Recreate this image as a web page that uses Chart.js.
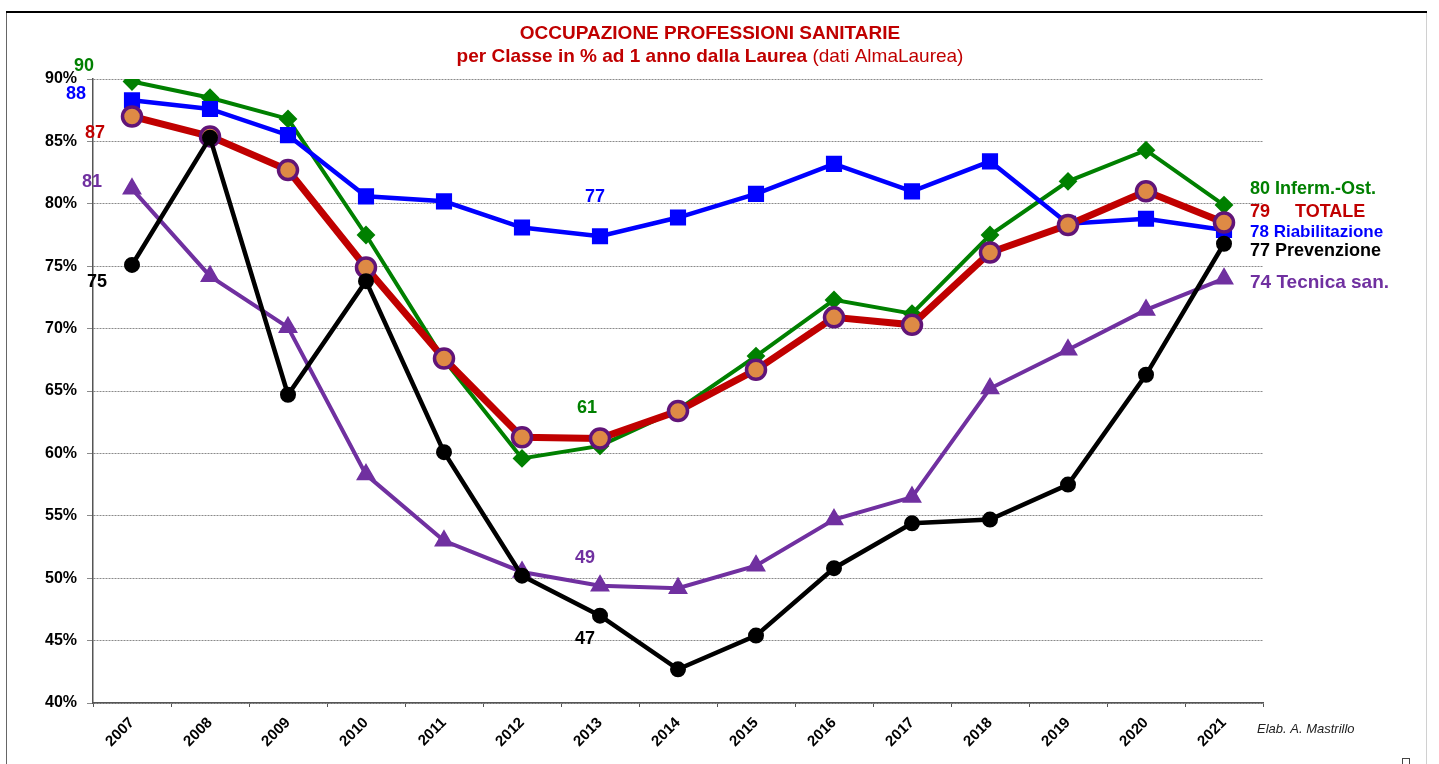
<!DOCTYPE html>
<html>
<head>
<meta charset="utf-8">
<script src="https://cdn.jsdelivr.net/npm/chart.js@4.4.1/dist/chart.umd.min.js"></script>
<style>
html,body{margin:0;padding:0;background:#fff;}
#wrap{width:1439px;height:764px;position:relative;}
</style>
</head>
<body>
<div id="wrap"><canvas id="c" width="1439" height="764"></canvas></div>
<script>
const years = ['2007','2008','2009','2010','2011','2012','2013','2014','2015','2016','2017','2018','2019','2020','2021'];
const infermOst      = [89.8, 88.5, 86.8, 77.5, 67.5, 59.6, 60.6, 63.5, 67.8, 72.3, 71.2, 77.5, 81.8, 84.3, 79.9];
const totale         = [87.0, 85.4, 82.7, 74.9, 67.6, 61.3, 61.2, 63.4, 66.7, 70.9, 70.3, 76.1, 78.3, 81.0, 78.5];
const riabilitazione = [88.3, 87.6, 85.5, 80.6, 80.2, 78.1, 77.4, 78.9, 80.8, 83.2, 81.0, 83.4, 78.4, 78.8, 77.9];
const prevenzione    = [75.1, 85.3, 64.7, 73.8, 60.1, 50.2, 47.0, 42.7, 45.4, 50.8, 54.4, 54.7, 57.5, 66.3, 76.8];
const tecnicaSan     = [81.2, 74.2, 70.1, 58.3, 53.0, 50.5, 49.4, 49.2, 51.0, 54.7, 56.5, 65.2, 68.3, 71.5, 74.0];
const yTicks = [40, 45, 50, 55, 60, 65, 70, 75, 80, 85, 90];

const titleLine1 = 'OCCUPAZIONE PROFESSIONI SANITARIE';
const titleLine2Bold = 'per Classe in % ad 1 anno dalla Laurea';
const titleLine2Normal = ' (dati AlmaLaurea)';
const credit = 'Elab. A. Mastrillo';

const FONT = "'Liberation Sans', Arial, sans-serif";
const C_GREEN = '#008000', C_BLUE = '#0000ff', C_RED = '#c00000', C_BLACK = '#000000', C_PURPLE = '#7030a0';

// value annotations: [dataset array, index, text, color, dx, dy]
const valueLabels = [
  [infermOst, 0, '90', C_GREEN, -48, -15],
  [riabilitazione, 0, '88', C_BLUE, -56, -6],
  [totale, 0, '87', C_RED, -37, 17],
  [tecnicaSan, 0, '81', C_PURPLE, -40, -7],
  [prevenzione, 0, '75', C_BLACK, -35, 17],
  [riabilitazione, 6, '77', C_BLUE, -5, -39],
  [infermOst, 6, '61', C_GREEN, -13, -38],
  [tecnicaSan, 6, '49', C_PURPLE, -15, -28],
  [prevenzione, 6, '47', C_BLACK, -15, 23]
];
// end labels: [text, value level, color, font size]
const endLabels = [
  ['80 Inferm.-Ost.', 81.2, C_GREEN, 18],
  ['79     TOTALE', 79.35, C_RED, 18],
  ['78 Riabilitazione', 77.75, C_BLUE, 17],
  ['77 Prevenzione', 76.2, C_BLACK, 18],
  ['74 Tecnica san.', 73.65, C_PURPLE, 19]
];

const framePlugin = {
  id: 'frame',
  beforeDraw(chart) {
    const ctx = chart.ctx;
    ctx.save();
    ctx.fillStyle = '#fff';
    ctx.fillRect(0, 0, chart.width, chart.height);
    ctx.lineWidth = 1;
    ctx.strokeStyle = '#666';
    ctx.beginPath(); ctx.moveTo(6.5, 12); ctx.lineTo(6.5, 764); ctx.stroke();
    ctx.strokeStyle = '#d0d0d0';
    ctx.beginPath(); ctx.moveTo(1426.5, 12); ctx.lineTo(1426.5, 764); ctx.stroke();
    ctx.strokeStyle = '#000';
    ctx.lineWidth = 2;
    ctx.beginPath(); ctx.moveTo(6, 12); ctx.lineTo(1427, 12); ctx.stroke();
    ctx.lineWidth = 1;
    ctx.strokeStyle = '#444';
    ctx.strokeRect(1402.5, 758.5, 7, 7);
    ctx.restore();
  }
};

const textPlugin = {
  id: 'texts',
  afterDatasetsDraw(chart) {
    const ctx = chart.ctx;
    const xs = chart.scales.x, ys = chart.scales.y;
    ctx.save();
    // title
    ctx.fillStyle = C_RED;
    ctx.textBaseline = 'middle';
    ctx.textAlign = 'center';
    ctx.font = 'bold 19px ' + FONT;
    ctx.fillText(titleLine1, 710, 34);
    ctx.font = 'bold 19px ' + FONT;
    const wb = ctx.measureText(titleLine2Bold).width;
    ctx.font = '19px ' + FONT;
    const wn = ctx.measureText(titleLine2Normal).width;
    const startX = 710 - (wb + wn) / 2;
    ctx.textAlign = 'left';
    ctx.font = 'bold 19px ' + FONT;
    ctx.fillText(titleLine2Bold, startX, 57);
    ctx.font = '19px ' + FONT;
    ctx.fillText(titleLine2Normal, startX + wb, 57);

    // value labels
    ctx.textAlign = 'center';
    ctx.font = 'bold 18px ' + FONT;
    valueLabels.forEach(([arr, i, txt, col, dx, dy]) => {
      ctx.fillStyle = col;
      ctx.fillText(txt, xs.getPixelForValue(i) + dx, ys.getPixelForValue(arr[i]) + dy);
    });

    // end labels
    ctx.textAlign = 'left';
    const lastX = xs.getPixelForValue(years.length - 1);
    endLabels.forEach(([txt, lvl, col, fs]) => {
      ctx.fillStyle = col;
      ctx.font = 'bold ' + fs + 'px ' + FONT;
      ctx.fillText(txt, lastX + 26, ys.getPixelForValue(lvl));
    });

    // credit
    ctx.fillStyle = '#222';
    ctx.font = 'italic 13px ' + FONT;
    ctx.fillText(credit, xs.right - 6, ys.bottom + 26);
    ctx.restore();
  }
};

function ds(label, data, color, width, style, radius, fill, border, bw) {
  return {
    label, data,
    borderColor: color, borderWidth: width,
    pointStyle: style, pointRadius: radius, pointHoverRadius: radius,
    pointBackgroundColor: fill, pointBorderColor: border, pointBorderWidth: bw,
    tension: 0, fill: false
  };
}

new Chart(document.getElementById('c'), {
  type: 'line',
  data: {
    labels: years,
    datasets: [
      ds('Prevenzione', prevenzione, C_BLACK, 4.5, 'circle', 7, C_BLACK, C_BLACK, 2),
      ds('TOTALE', totale, C_RED, 7, 'circle', 9.5, '#de8a45', '#611478', 3.5),
      ds('Riabilitazione', riabilitazione, C_BLUE, 4.5, 'rect', 10, C_BLUE, C_BLUE, 2),
      ds('Inferm.-Ost.', infermOst, C_GREEN, 4, 'rectRot', 8, C_GREEN, C_GREEN, 2),
      ds('Tecnica san.', tecnicaSan, C_PURPLE, 4, 'triangle', 10, C_PURPLE, C_PURPLE, 1.5)
    ]
  },
  options: {
    responsive: false,
    animation: false,
    devicePixelRatio: 1,
    layout: { padding: { left: 0, top: 79, right: 176, bottom: 0 } },
    plugins: { legend: { display: false }, tooltip: { enabled: false }, title: { display: false } },
    scales: {
      x: {
        type: 'category',
        offset: true,
        afterFit(s) { s.height = 61; },
        grid: { offset: true, drawOnChartArea: false, drawTicks: true, tickLength: 4, color: '#555', lineWidth: 1 },
        border: { display: true, color: '#555', width: 1.5 },
        ticks: { color: '#000', font: { family: FONT, size: 15, weight: 'bold' }, minRotation: 45, maxRotation: 45, padding: 7, autoSkip: false }
      },
      y: {
        min: 40, max: 90,
        afterFit(s) { s.width = 93; },
        afterBuildTicks(s) { s.ticks = yTicks.map(v => ({ value: v })); },
        grid: { color: '#8a8a8a', lineWidth: 1, tickLength: 6, drawTicks: true },
        border: { display: true, color: '#555', width: 1.5, dash: [2, 1] },
        ticks: { color: '#000', padding: 10, font: { family: FONT, size: 16, weight: 'bold' }, callback: v => v + '%' }
      }
    }
  },
  plugins: [framePlugin, textPlugin]
});
</script>
</body>
</html>
